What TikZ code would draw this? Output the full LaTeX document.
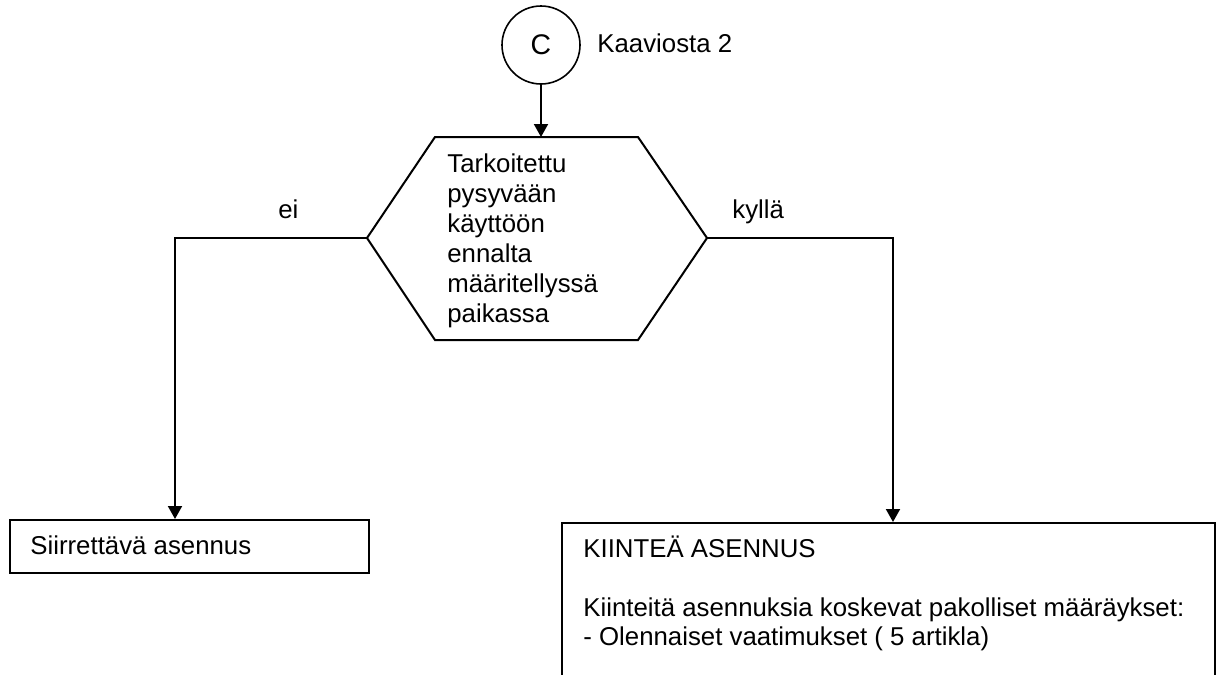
\documentclass[tikz,border=0pt]{standalone}
\usepackage{fontspec}
\setmainfont{Liberation Sans}
\usetikzlibrary{arrows.meta}
\begin{document}
\begin{tikzpicture}[x=0.5pt,y=-0.5pt,
  txt/.style={inner sep=0pt, font=\fontsize{12.9}{14.9}\selectfont},
  lines/.style={txt, align=left, font=\fontsize{12.9}{15}\selectfont},
  flow/.style={line width=1pt, line join=miter},
  arr/.style={flow, -{Triangle[length=6.5pt,width=7pt]}},
  boxed/.style={draw, line width=1pt, rectangle, inner sep=0pt, anchor=north west}]
  \clip (0,0) rectangle (1223,675);

  % connector from chart 2
  \node[circle, draw, line width=0.8pt, minimum size=39pt, inner sep=0pt,
        font=\fontsize{14.2}{16}\selectfont] (c) at (541,45) {C};
  \node[txt, anchor=base west] (ref) at (597,52) {Kaaviosta 2};

  % decision hexagon (anchored on the baseline of its last line)
  \coordinate (hT) at (541,137);
  \coordinate (hl) at (367,238);
  \coordinate (hr) at (707,238);
  \draw[flow] (hl) -- (435,137) -- (638,137) -- (hr) -- (638,340) -- (435,340) -- cycle;
  \node[lines, anchor=base west] (q) at (447,322)
    {Tarkoitettu\\pysyvään\\käyttöön\\ennalta\\määritellyssä\\paikassa};

  % outcome boxes
  \node[boxed, minimum width=179.5pt, minimum height=26.5pt] (mob) at (9,519) {};
  \node[txt, anchor=base west] (mobt) at (30,554) {Siirrettävä asennus};

  \node[boxed, minimum width=326.5pt, minimum height=110pt] (fix) at (561,522) {};
  \node[lines, anchor=base west, font=\fontsize{12.9}{14.25}\selectfont] (fixt) at (583,645)
    {KIINTEÄ ASENNUS\\[15.25pt]Kiinteitä asennuksia koskevat pakolliset määräykset:\\- Olennaiset vaatimukset ( 5 artikla)};

  % connectors
  \coordinate (ltop) at (175,519);
  \coordinate (rtop) at (893,522);
  \draw[arr] (c.south) -- (hT);
  \draw[arr] (hl) -| (ltop);
  \draw[arr] (hr) -| (rtop);
  \node[txt, anchor=base west] (no) at (278,218) {ei};
  \node[txt, anchor=base west] (yes) at (732,218) {kyllä};
\end{tikzpicture}
\end{document}
